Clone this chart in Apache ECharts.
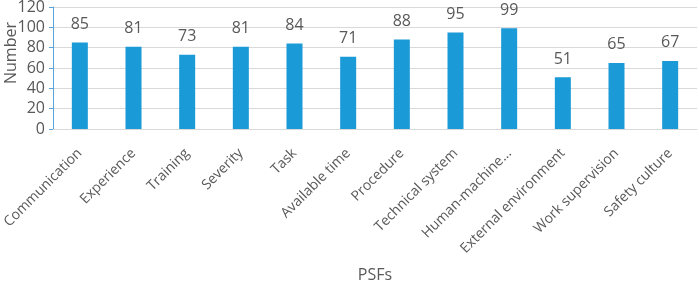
<!DOCTYPE html>
<html>
<head>
<meta charset="utf-8">
<script src="https://cdn.jsdelivr.net/npm/echarts@6/dist/echarts.min.js"></script>
<style>
  html, body { margin: 0; padding: 0; background: #fff; }
  #chart { width: 699px; height: 281px; }
</style>
</head>
<body>
<div id="chart"></div>
<script>
// PSF categories and counts
var categories = ['Communication', 'Experience', 'Training', 'Severity', 'Task', 'Available time',
  'Procedure', 'Technical system', 'Human-machine...', 'External environment', 'Work supervision', 'Safety culture'];
var counts = [85, 81, 73, 81, 84, 71, 88, 95, 99, 51, 65, 67];
var yTicks = [0, 20, 40, 60, 80, 100, 120];

var myChart = echarts.init(document.getElementById('chart'));
var grey = '#595959';
var option = {
  animation: false,
  textStyle: { fontFamily: 'Open Sans' },
  grid: { left: 53, right: 2, top: 7, bottom: 152, outerBoundsMode: 'none', containLabel: false },
  xAxis: {
    type: 'category',
    data: categories,
    name: 'PSFs',
    nameLocation: 'middle',
    nameGap: 138,
    nameMoveOverlap: false,
    nameTextStyle: { color: grey, fontSize: 16 },
    axisLine: { lineStyle: { color: '#d9d9d9' } },
    axisTick: { show: false },
    axisLabel: { rotate: 45, color: grey, fontSize: 14, margin: 22, interval: 0 }
  },
  yAxis: {
    type: 'value',
    min: yTicks[0],
    max: yTicks[yTicks.length - 1],
    interval: 20,
    name: 'Number',
    nameLocation: 'middle',
    nameGap: 34,
    nameMoveOverlap: false,
    nameTextStyle: { color: grey, fontSize: 16, padding: [0, 0, 0, 30] },
    axisLine: { show: true, lineStyle: { color: '#5ba3dd' } },
    axisTick: { show: true, length: 4, lineStyle: { color: '#5ba3dd' } },
    axisLabel: { color: grey, fontSize: 16, margin: 8 },
    splitLine: { lineStyle: { color: '#d9d9d9' } }
  },
  series: [{
    type: 'bar',
    data: counts,
    barWidth: 16,
    itemStyle: { color: '#1a9ad6' },
    label: { show: true, position: 'top', distance: 10, color: grey, fontSize: 16 }
  }]
};
myChart.setOption(option);
</script>
</body>
</html>
